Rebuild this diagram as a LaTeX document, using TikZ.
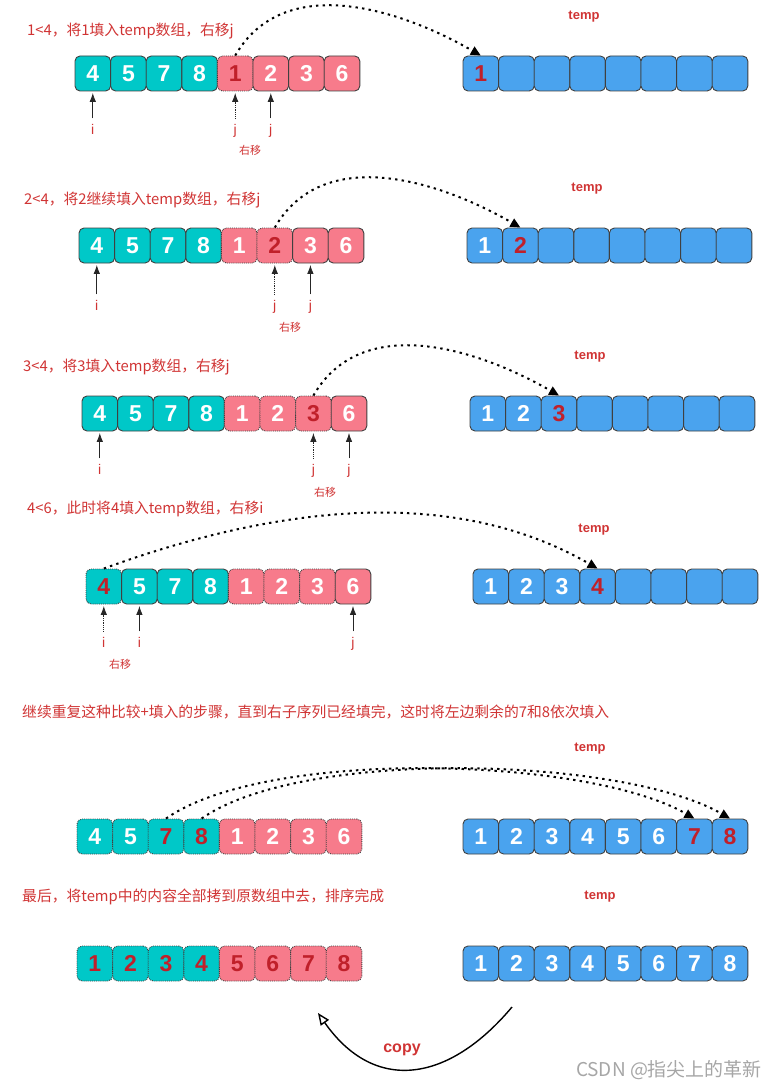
\documentclass[tikz,border=0pt]{standalone}
\usepackage{fontspec}
\setmainfont{Liberation Sans}
\newfontfamily\cjk{Noto Sans CJK SC}
\usetikzlibrary{positioning,arrows.meta}

\definecolor{leftcol}{HTML}{00C8C8}
\definecolor{rightcol}{HTML}{F77B8B}
\definecolor{tempcol}{HTML}{4AA3EE}
\definecolor{numred}{HTML}{C0202A}
\definecolor{txtred}{HTML}{D03434}

\begin{document}
\begin{tikzpicture}[x=1pt, y=1pt,
    cell/.style={draw=black!75, line width=0.9pt, rounded corners=5pt,
      minimum width=35.6pt, minimum height=35pt, inner sep=0pt,
      text=white, font=\fontsize{23}{23}\selectfont\bfseries},
    lcell/.style={cell, fill=leftcol},
    rcell/.style={cell, fill=rightcol},
    tcell/.style={cell, fill=tempcol},
    lmv/.style={lcell, densely dotted},
    rmv/.style={rcell, densely dotted},
    lpk/.style={lmv, text=numred},
    rpk/.style={rmv, text=numred},
    tpk/.style={tcell, text=numred},
    note/.style={text=txtred, font=\cjk\fontsize{14.8}{16}\selectfont, anchor=west, inner sep=0pt},
    tmplabel/.style={text=txtred, font=\fontsize{13}{13}\selectfont\bfseries},
    ptr/.style={text=txtred, font=\fontsize{14}{14}\selectfont, inner sep=0pt,
      text height=9pt, text depth=3pt},
    movenote/.style={text=txtred, font=\cjk\fontsize{11}{11}\selectfont},
    pointer/.style={-{Latex[length=9pt,width=6.5pt]}, line width=0.8pt, black!85,
      shorten <=7pt, shorten >=1.5pt},
    fillarc/.style={-{Triangle[length=10pt,width=9pt]}, line width=2pt,
      dash pattern=on 2.4pt off 4.2pt},
    copyarrow/.style={-{Triangle[open,length=12pt,width=10pt]}, line width=1.4pt}]

\useasboundingbox (0,0) rectangle (781,-1086);

% row 1: 1<4
\node[note] (n1) at (27,-31) {1<4，将1填入temp数组，右移j};
\node[tmplabel] (tl1) at (584,-17) {temp};
\foreach \v/\s [count=\k] in {4/lcell,5/lcell,7/lcell,8/lcell,1/rpk,2/rcell,3/rcell,6/rcell}
  \node[\s] (a1-\k) at (75+\k*35.6-17.8,-73.5) {\v};
\node[tpk] (t1-1) at (463+17.8,-73.5) {1};
\foreach \k in {2,...,8}
  \node[tcell] (t1-\k) at (463+\k*35.6-17.8,-73.5) {};
\node[ptr, below=34pt of a1-1] (i1) {i};
\node[ptr, below=34pt of a1-5] (j1a) {j};
\node[ptr, below=34pt of a1-6] (j1b) {j};
\node[movenote] (m1) at (250,-150) {右移};
\draw[pointer] (i1) -- (a1-1);
\draw[pointer, densely dotted] (j1a) -- (a1-5);
\draw[pointer] (j1b) -- (a1-6);
\draw[fillarc] (a1-5.north) to[out=60, in=150] (t1-1.north);

% row 2: 2<4
\node[note] (n2) at (24,-200) {2<4，将2继续填入temp数组，右移j};
\node[tmplabel] (tl2) at (587,-189) {temp};
\foreach \v/\s [count=\k] in {4/lcell,5/lcell,7/lcell,8/lcell,1/rmv,2/rpk,3/rcell,6/rcell}
  \node[\s] (a2-\k) at (79+\k*35.6-17.8,-245.5) {\v};
\foreach \v/\s [count=\k] in {1/tcell,2/tpk}
  \node[\s] (t2-\k) at (467+\k*35.6-17.8,-245.5) {\v};
\foreach \k in {3,...,8}
  \node[tcell] (t2-\k) at (467+\k*35.6-17.8,-245.5) {};
\node[ptr, below=38pt of a2-1] (i2) {i};
\node[ptr, below=38pt of a2-6] (j2a) {j};
\node[ptr, below=38pt of a2-7] (j2b) {j};
\node[movenote] (m2) at (290,-327) {右移};
\draw[pointer] (i2) -- (a2-1);
\draw[pointer, densely dotted] (j2a) -- (a2-6);
\draw[pointer] (j2b) -- (a2-7);
\draw[fillarc] (a2-6.north) to[out=60, in=150] (t2-2.north);

% row 3: 3<4
\node[note] (n3) at (23,-367) {3<4，将3填入temp数组，右移j};
\node[tmplabel] (tl3) at (590,-357) {temp};
\foreach \v/\s [count=\k] in {4/lcell,5/lcell,7/lcell,8/lcell,1/rmv,2/rmv,3/rpk,6/rcell}
  \node[\s] (a3-\k) at (82+\k*35.6-17.8,-413.5) {\v};
\foreach \v/\s [count=\k] in {1/tcell,2/tcell,3/tpk}
  \node[\s] (t3-\k) at (470+\k*35.6-17.8,-413.5) {\v};
\foreach \k in {4,...,8}
  \node[tcell] (t3-\k) at (470+\k*35.6-17.8,-413.5) {};
\node[ptr, below=34pt of a3-1] (i3) {i};
\node[ptr, below=34pt of a3-7] (j3a) {j};
\node[ptr, below=34pt of a3-8] (j3b) {j};
\node[movenote] (m3) at (325,-492) {右移};
\draw[pointer] (i3) -- (a3-1);
\draw[pointer, densely dotted] (j3a) -- (a3-7);
\draw[pointer] (j3b) -- (a3-8);
\draw[fillarc] (a3-7.north) to[out=60, in=150] (t3-3.north);

% row 4: 4<6
\node[note] (n4) at (27,-509) {4<6，此时将4填入temp数组，右移i};
\node[tmplabel] (tl4) at (594,-530) {temp};
\foreach \v/\s [count=\k] in {4/lpk,5/lcell,7/lcell,8/lcell,1/rmv,2/rmv,3/rmv,6/rcell}
  \node[\s] (a4-\k) at (86+\k*35.6-17.8,-586.5) {\v};
\foreach \v/\s [count=\k] in {1/tcell,2/tcell,3/tcell,4/tpk}
  \node[\s] (t4-\k) at (473+\k*35.6-17.8,-586.5) {\v};
\foreach \k in {5,...,8}
  \node[tcell] (t4-\k) at (473+\k*35.6-17.8,-586.5) {};
\node[ptr, below=34pt of a4-1] (i4a) {i};
\node[ptr, below=34pt of a4-2] (i4b) {i};
\node[ptr, below=34pt of a4-8] (j4) {j};
\node[movenote] (m4) at (120,-664) {右移};
\draw[pointer, densely dotted] (i4a) -- (a4-1);
\draw[pointer] (i4b) -- (a4-2);
\draw[pointer] (j4) -- (a4-8);
\draw[fillarc] (a4-1.north) to[out=20, in=150, looseness=0.9] (t4-4.north);

% row 5: copy the rest of the left half
\node[note] (n5) at (22,-712) {继续重复这种比较+填入的步骤，直到右子序列已经填完，这时将左边剩余的7和8依次填入};
\node[tmplabel] (tl5) at (590,-749) {temp};
\foreach \v/\s [count=\k] in {4/lmv,5/lmv,7/lpk,8/lpk,1/rmv,2/rmv,3/rmv,6/rmv}
  \node[\s] (a5-\k) at (77+\k*35.6-17.8,-836.5) {\v};
\foreach \v/\s [count=\k] in {1/tcell,2/tcell,3/tcell,4/tcell,5/tcell,6/tcell,7/tpk,8/tpk}
  \node[\s] (t5-\k) at (463+\k*35.6-17.8,-836.5) {\v};
\draw[fillarc] (a5-3.north) to[out=35, in=150, looseness=0.6] (t5-7.north);
\draw[fillarc] (a5-4.north) to[out=35, in=150, looseness=0.6] (t5-8.north);

% row 6: copy back
\node[note] (n6) at (22,-897) {最后，将temp中的内容全部拷到原数组中去，排序完成};
\node[tmplabel] (tl6) at (600,-897) {temp};
\foreach \v/\s [count=\k] in {1/lpk,2/lpk,3/lpk,4/lpk,5/rpk,6/rpk,7/rpk,8/rpk}
  \node[\s] (a6-\k) at (77+\k*35.6-17.8,-963.5) {\v};
\foreach \v [count=\k] in {1,...,8}
  \node[tcell] (t6-\k) at (463+\k*35.6-17.8,-963.5) {\v};
\coordinate (copyfrom) at (512,-1007);
\coordinate (copyto) at (318,-1013);
\draw[copyarrow] (copyfrom) to[out=-130, in=-55, looseness=1.3] (copyto);
\node[text=txtred, font=\fontsize{16}{16}\selectfont\bfseries] (copy) at (402,-1050) {copy};

\node[text=black!35, font=\cjk\fontsize{19}{19}\selectfont] (mark) at (669,-1070) {CSDN @指尖上的革新};
\end{tikzpicture}
\end{document}
